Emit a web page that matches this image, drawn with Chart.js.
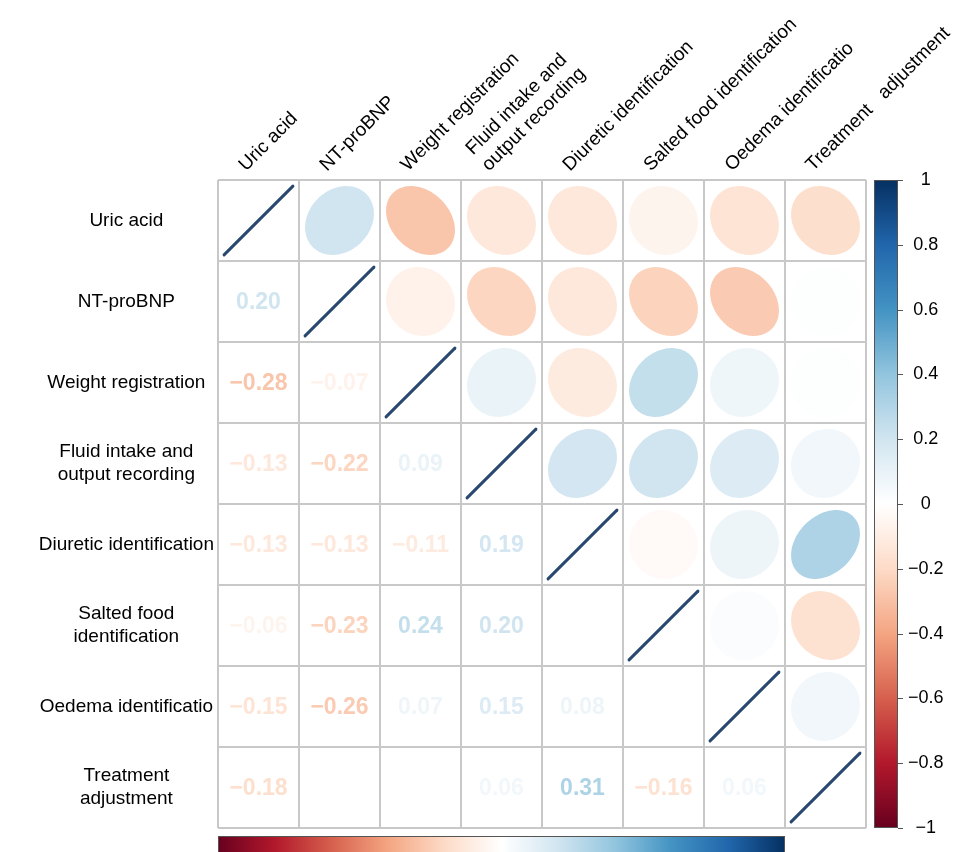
<!DOCTYPE html>
<html>
<head>
<meta charset="utf-8">
<script src="https://cdn.jsdelivr.net/npm/chart.js@4.4.1/dist/chart.umd.min.js"></script>
<style>
  html, body { margin: 0; padding: 0; background: #ffffff; }
  #wrap { width: 970px; height: 852px; position: relative; overflow: hidden; }
</style>
</head>
<body>
<div id="wrap"><canvas id="corr" width="970" height="852"></canvas></div>
<script>
// Variables of the correlation matrix (row order = column order)
const variables = [
  'Uric acid', 'NT-proBNP', 'Weight registration', 'Fluid intake and output recording',
  'Diuretic identification', 'Salted food identification', 'Oedema identificatio', 'Treatment adjustment'
];

// Tick labels as they are broken into lines on each axis
const rowTickLabels = [
  'Uric acid', 'NT-proBNP', 'Weight registration', ['Fluid intake and', 'output recording'],
  'Diuretic identification', ['Salted food', 'identification'], 'Oedema identificatio', ['Treatment', 'adjustment']
];
const colTickLabels = [
  'Uric acid', 'NT-proBNP', 'Weight registration', ['Fluid intake and', 'output recording'],
  'Diuretic identification', 'Salted food identification', 'Oedema identificatio', 'Treatment   adjustment'
];

// Lower triangle of the correlation matrix, one array per row (columns 0 .. row-1)
const corrUricAcid   = [];
const corrNTproBNP   = [0.20];
const corrWeight     = [-0.28, -0.07];
const corrFluid      = [-0.13, -0.22, 0.09];
const corrDiuretic   = [-0.13, -0.13, -0.11, 0.19];
const corrSalted     = [-0.06, -0.23, 0.24, 0.20, -0.03];
const corrOedema     = [-0.15, -0.26, 0.07, 0.15, 0.08, 0.02];
const corrTreatment  = [-0.18, 0.01, 0.01, 0.06, 0.31, -0.16, 0.06];

// Colour legend tick values
const colorbarTicks = [1, 0.8, 0.6, 0.4, 0.2, 0, -0.2, -0.4, -0.6, -0.8, -1];

// Coefficients below this magnitude are left without a printed value
const labelThreshold = 0.05;

const lowerRows = [corrUricAcid, corrNTproBNP, corrWeight, corrFluid, corrDiuretic, corrSalted, corrOedema, corrTreatment];
const n = variables.length;
function corrAt(i, j) {
  if (i === j) return 1;
  return i > j ? lowerRows[i][j] : lowerRows[j][i];
}

const cells = [];
for (let i = 0; i < n; i++) {
  for (let j = 0; j < n; j++) {
    cells.push({ x: j, y: i, r: corrAt(i, j) });
  }
}

// Diverging red-white-blue palette, -1 .. 1
const paletteStops = ['#67001F', '#B2182B', '#D6604D', '#F4A582', '#FDDBC7', '#FFFFFF',
                      '#D1E5F0', '#92C5DE', '#4393C3', '#2166AC', '#053061'];
function hexToRgb(h) {
  return [parseInt(h.slice(1, 3), 16), parseInt(h.slice(3, 5), 16), parseInt(h.slice(5, 7), 16)];
}
function colorFor(v) {
  const t = Math.max(0, Math.min(1, (v + 1) / 2)) * (paletteStops.length - 1);
  const i = Math.min(paletteStops.length - 2, Math.floor(t));
  const f = t - i;
  const a = hexToRgb(paletteStops[i]), b = hexToRgb(paletteStops[i + 1]);
  const c = a.map((av, k) => Math.round(av + (b[k] - av) * f));
  return `rgb(${c[0]},${c[1]},${c[2]})`;
}
function fmt(v) {
  const s = Math.abs(v).toFixed(2);
  return (v < 0 ? '\u2212' : '') + s;
}
function fmtTick(v) {
  const a = Math.abs(v);
  const s = (a === 1 || a === 0) ? String(a) : a.toFixed(1);
  return (v < 0 ? '\u2212' : '') + s;
}

const FONT = "'Liberation Sans', Arial, Helvetica, sans-serif";
Chart.defaults.font.family = FONT;
Chart.defaults.color = '#000000';

const ELL = 0.425; // half extent of an ellipse relative to the cell

const corrPlot = {
  id: 'corrPlot',
  afterDatasetsDraw(chart) {
    const { ctx, chartArea } = chart;
    const xs = chart.scales.x, ys = chart.scales.y;
    const meta = chart.getDatasetMeta(0);
    const data = chart.data.datasets[0].data;
    const cw = Math.abs(xs.getPixelForValue(1) - xs.getPixelForValue(0));
    const ch = Math.abs(ys.getPixelForValue(1) - ys.getPixelForValue(0));
    ctx.save();
    meta.data.forEach((el, k) => {
      const d = data[k];
      const cx = el.x, cy = el.y;
      if (d.x === d.y) {
        ctx.strokeStyle = '#28486f';
        ctx.lineWidth = 3;
        ctx.lineCap = 'round';
        ctx.beginPath();
        ctx.moveTo(cx - ELL * cw, cy + ELL * ch);
        ctx.lineTo(cx + ELL * cw, cy - ELL * ch);
        ctx.stroke();
      } else if (d.x > d.y) {
        const a = Math.acos(d.r);
        ctx.fillStyle = colorFor(d.r);
        ctx.beginPath();
        const steps = 120;
        for (let s = 0; s <= steps; s++) {
          const t = (2 * Math.PI * s) / steps;
          const ex = ELL * Math.cos(t + a / 2);
          const ey = ELL * Math.cos(t - a / 2);
          const px = cx + ex * cw, py = cy - ey * ch;
          if (s === 0) ctx.moveTo(px, py); else ctx.lineTo(px, py);
        }
        ctx.closePath();
        ctx.fill();
      } else if (Math.abs(d.r) >= labelThreshold) {
        ctx.fillStyle = colorFor(d.r);
        ctx.font = `bold 23px ${FONT}`;
        ctx.textAlign = 'center';
        ctx.textBaseline = 'middle';
        ctx.fillText(fmt(d.r), cx, cy + 1);
      }
    });
    // cell grid
    ctx.strokeStyle = '#c8c8c8';
    ctx.lineWidth = 2;
    ctx.lineCap = 'butt';
    ctx.beginPath();
    for (let k = 0; k <= n; k++) {
      const px = xs.getPixelForValue(k - 0.5);
      const py = ys.getPixelForValue(k - 0.5);
      ctx.moveTo(px, chartArea.top); ctx.lineTo(px, chartArea.bottom);
      ctx.moveTo(chartArea.left, py); ctx.lineTo(chartArea.right, py);
    }
    ctx.stroke();
    ctx.restore();
  },
  afterDraw(chart) {
    const { ctx, chartArea } = chart;
    const cb = chart.scales.cbar, xs = chart.scales.x;
    ctx.save();
    // vertical colour legend
    const top = cb.getPixelForValue(1), bottom = cb.getPixelForValue(-1);
    const left = chartArea.right + 8, width = 24;
    const g = ctx.createLinearGradient(0, bottom, 0, top);
    paletteStops.forEach((c, i) => g.addColorStop(i / (paletteStops.length - 1), c));
    ctx.fillStyle = g;
    ctx.fillRect(left, top, width, bottom - top);
    ctx.strokeStyle = '#555555';
    ctx.lineWidth = 1;
    ctx.strokeRect(left + 0.5, top + 0.5, width - 1, bottom - top - 1);
    ctx.beginPath();
    colorbarTicks.forEach(v => {
      const py = Math.round(cb.getPixelForValue(v)) + 0.5;
      ctx.moveTo(left + width, py);
      ctx.lineTo(left + width + 5, py);
    });
    ctx.stroke();
    // horizontal colour legend below the matrix
    const hl = xs.getPixelForValue(-0.5), hr = xs.getPixelForValue(6.5);
    const ht = chartArea.bottom + 8;
    const hg = ctx.createLinearGradient(hl, 0, hr, 0);
    paletteStops.forEach((c, i) => hg.addColorStop(i / (paletteStops.length - 1), c));
    ctx.fillStyle = hg;
    ctx.fillRect(hl, ht, hr - hl, 40);
    ctx.strokeStyle = '#555555';
    ctx.strokeRect(hl + 0.5, ht + 0.5, hr - hl - 1, 40);
    ctx.restore();
  }
};

const indexTicks = (scale) => { scale.ticks = variables.map((_, i) => ({ value: i })); };

new Chart(document.getElementById('corr'), {
  type: 'scatter',
  data: {
    datasets: [{
      data: cells,
      pointRadius: 0,
      pointHoverRadius: 0,
      xAxisID: 'x',
      yAxisID: 'y'
    }]
  },
  options: {
    responsive: false,
    animation: false,
    events: [],
    layout: { padding: { top: 0, left: 0, right: 0, bottom: 24 } },
    plugins: { legend: { display: false }, tooltip: { enabled: false } },
    scales: {
      x: {
        type: 'linear',
        position: 'top',
        min: -0.5, max: n - 0.5,
        afterBuildTicks: indexTicks,
        grid: { display: false, drawTicks: false },
        border: { display: false },
        ticks: {
          autoSkip: false,
          minRotation: 45, maxRotation: 45,
          padding: 4,
          font: { size: 19 },
          callback: (v) => colTickLabels[v]
        },
        afterFit: (s) => { s.height = 180; s.paddingLeft = 0; s.paddingRight = 0; }
      },
      y: {
        type: 'linear',
        position: 'left',
        reverse: true,
        min: -0.5, max: n - 0.5,
        afterBuildTicks: indexTicks,
        grid: { display: false, drawTicks: false },
        border: { display: false },
        ticks: {
          autoSkip: false,
          crossAlign: 'center',
          padding: 4,
          font: { size: 19 },
          callback: (v) => rowTickLabels[v]
        },
        afterFit: (s) => { s.width = 218; s.paddingTop = 0; s.paddingBottom = 0; }
      },
      cbar: {
        type: 'linear',
        position: 'right',
        min: -1, max: 1,
        afterBuildTicks: (s) => { s.ticks = colorbarTicks.map(v => ({ value: v })); },
        grid: { display: false, drawTicks: false },
        border: { display: false },
        ticks: {
          autoSkip: false,
          crossAlign: 'center',
          padding: 42,
          font: { size: 18 },
          callback: (v) => fmtTick(v)
        },
        afterFit: (s) => { s.width = 104; s.paddingTop = 0; s.paddingBottom = 0; }
      }
    }
  },
  plugins: [corrPlot]
});
</script>
</body>
</html>
